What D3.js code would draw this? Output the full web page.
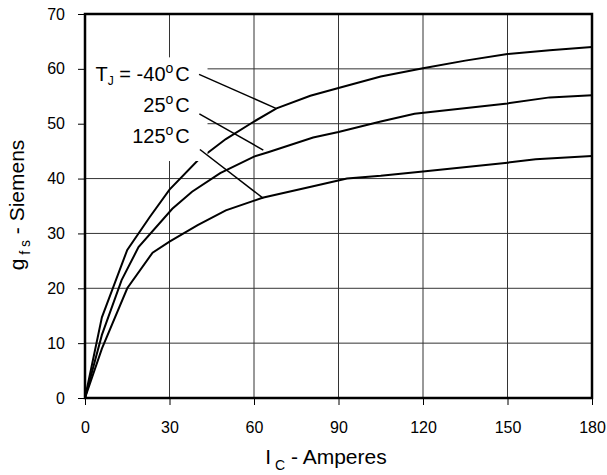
<!DOCTYPE html>
<html>
<head>
<meta charset="utf-8">
<script src="https://cdn.jsdelivr.net/npm/d3@7"></script>
<style>
  body { margin: 0; background: #fff; }
  text { font-family: "Liberation Sans", Arial, sans-serif; fill: #000; }
</style>
</head>
<body>
<div id="chart"></div>
<script>
// Data (Ic in amperes, gfs in siemens)
const icM40 = [0, 6, 15, 23, 30, 40, 50, 60, 68, 80, 90, 105, 120, 135, 150, 165, 180];
const gfsM40 = [0, 14.7, 27, 33, 38, 43.3, 47.2, 50.4, 52.8, 55.1, 56.5, 58.6, 60.1, 61.5, 62.7, 63.4, 64];

const ic25 = [0, 6, 13, 19, 31, 38, 48, 60, 65, 81, 90, 105, 117, 150, 165, 180];
const gfs25 = [0, 11.5, 21.5, 27.5, 34.5, 37.6, 41, 44, 44.8, 47.5, 48.5, 50.4, 51.8, 53.7, 54.8, 55.2];

const ic125 = [0, 6, 15, 24, 30, 40, 50, 63, 81, 93, 105, 120, 150, 160, 180];
const gfs125 = [0, 9, 20, 26.5, 28.5, 31.5, 34.2, 36.5, 38.6, 40, 40.5, 41.3, 42.9, 43.5, 44.1];

const xTicks = [0, 30, 60, 90, 120, 150, 180];
const yTicks = [0, 10, 20, 30, 40, 50, 60, 70];

// label text and leader lines (from label to curve), in data units
const labelTemps = ["-40", "25", "125"];
const leaderFrom = [[40.5, 59.0], [40.6, 51.8], [40.8, 45.3]];
const leaderTo = [[67.8, 52.8], [63.3, 45.2], [63.3, 36.4]];

const W = 607, H = 475;
const margin = { top: 14, right: 15, bottom: 77, left: 85 };

const svg = d3.select("#chart")
  .append("svg")
  .attr("width", W)
  .attr("height", H);

const x = d3.scaleLinear().domain([0, 180]).range([margin.left, W - margin.right]);
const y = d3.scaleLinear().domain([0, 70]).range([H - margin.bottom, margin.top]);

// Grid lines
svg.selectAll("line.vgrid")
  .data(xTicks.slice(1, -1))
  .enter()
  .append("line")
  .attr("x1", d => x(d)).attr("x2", d => x(d))
  .attr("y1", y(0)).attr("y2", y(70))
  .style("stroke", "#333")
  .style("stroke-width", 1);

svg.selectAll("line.hgrid")
  .data(yTicks.slice(1, -1))
  .enter()
  .append("line")
  .attr("x1", x(0)).attr("x2", x(180))
  .attr("y1", d => y(d)).attr("y2", d => y(d))
  .style("stroke", "#333")
  .style("stroke-width", 1);

// Curves
const line = d3.line().x(d => x(d[0])).y(d => y(d[1]));
const curves = [
  d3.zip(icM40, gfsM40),
  d3.zip(ic25, gfs25),
  d3.zip(ic125, gfs125)
];
svg.selectAll("path.curve")
  .data(curves)
  .enter()
  .append("path")
  .attr("d", line)
  .style("fill", "none")
  .style("stroke", "#000")
  .style("stroke-width", 2);

// white box behind the labels
svg.append("rect")
  .attr("x", x(0) + 1)
  .attr("y", y(62.1))
  .attr("width", x(43.5) - x(0) - 1)
  .attr("height", y(43.2) - y(62.1))
  .style("fill", "#fff");

// Axes (ticks outside, frame drawn separately)
svg.append("g")
  .attr("transform", `translate(0,${y(0)})`)
  .call(d3.axisBottom(x).tickValues(xTicks).tickSize(7).tickPadding(17).tickSizeOuter(0))
  .call(g => g.select(".domain").remove())
  .call(g => g.selectAll("line").style("stroke-width", 1))
  .call(g => g.selectAll("text").style("font-size", "16px").attr("font-family", null));

svg.append("g")
  .attr("transform", `translate(${x(0)},0)`)
  .call(d3.axisLeft(y).tickValues(yTicks).tickSize(7).tickPadding(13).tickSizeOuter(0))
  .call(g => g.select(".domain").remove())
  .call(g => g.selectAll("line").style("stroke-width", 1))
  .call(g => g.selectAll("text").style("font-size", "16px").attr("font-family", null));

// Frame
svg.append("rect")
  .attr("x", x(0)).attr("y", y(70))
  .attr("width", x(180) - x(0))
  .attr("height", y(0) - y(70))
  .style("fill", "none")
  .style("stroke", "#000")
  .style("stroke-width", 2.5);

// Leader lines
svg.selectAll("line.leader")
  .data(d3.zip(leaderFrom, leaderTo))
  .enter()
  .append("line")
  .attr("x1", d => x(d[0][0])).attr("y1", d => y(d[0][1]))
  .attr("x2", d => x(d[1][0])).attr("y2", d => y(d[1][1]))
  .style("stroke", "#000")
  .style("stroke-width", 1.5);

// Temperature labels
const labelBase = [57.8, 52.1, 46.5];
labelTemps.forEach((t, i) => {
  const txt = svg.append("text")
    .attr("x", x(37.2))
    .attr("y", y(labelBase[i]))
    .attr("text-anchor", "end")
    .style("font-size", "20px");
  if (i === 0) {
    txt.append("tspan").text("T");
    txt.append("tspan").attr("dy", 4).style("font-size", "12px").text("J");
    txt.append("tspan").attr("dy", -4).text(" = " + t);
  } else {
    txt.append("tspan").text(t);
  }
  txt.append("tspan").attr("dy", -8).style("font-size", "14px").text("o");
  txt.append("tspan").attr("dy", 8).attr("dx", 2).text("C");
});

// X axis title
const xt = svg.append("text")
  .attr("x", 326)
  .attr("y", 464)
  .attr("text-anchor", "middle")
  .style("font-size", "21px");
xt.append("tspan").text("I");
xt.append("tspan").attr("dy", 6).style("font-size", "14px").text(" C");
xt.append("tspan").attr("dy", -6).text(" - Amperes");

// Y axis title
const yt = svg.append("text")
  .attr("transform", `translate(24,205) rotate(-90)`)
  .attr("text-anchor", "middle")
  .style("font-size", "21px");
yt.append("tspan").text("g");
yt.append("tspan").attr("dy", 6).style("font-size", "14px").text(" f s");
yt.append("tspan").attr("dy", -6).text(" - Siemens");
</script>
</body>
</html>
